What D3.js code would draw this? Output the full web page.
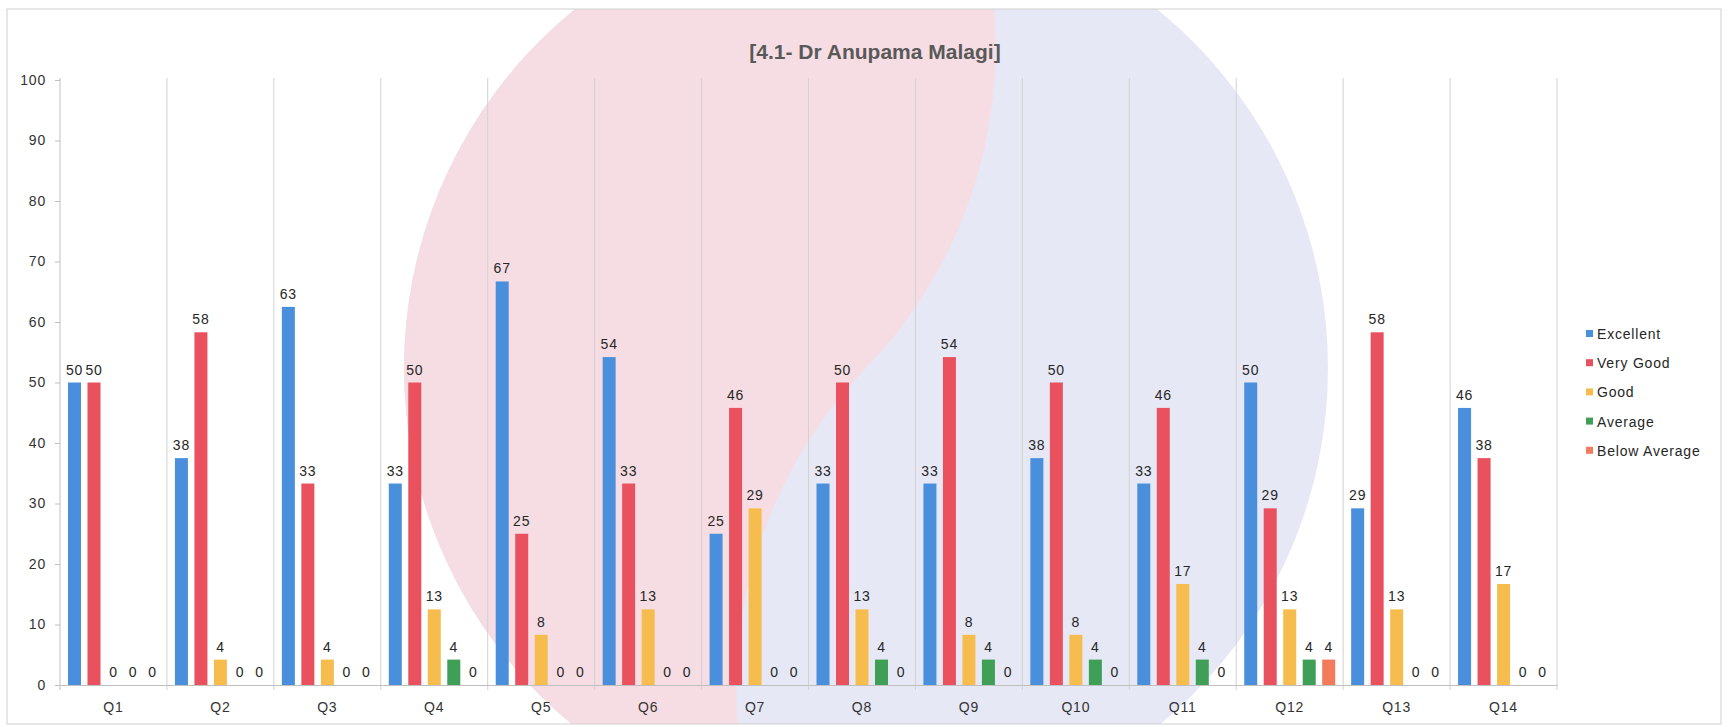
<html>
<head>
<title>4.1- Dr Anupama Malagi</title>
<script src="https://cdn.jsdelivr.net/npm/d3@7"></script>
<style>
    body {
        margin:0;
        background:white;
        font-family:'Liberation Sans', Arial, sans-serif;
    }
    .axis text {
        font-size:14px;
        letter-spacing:0.8px;
        fill:#333;
    }
    .axis path, .axis line {
        stroke:#bfbfbf;
    }
    .lbl {
        font-size:14px;
        letter-spacing:0.8px;
        fill:#262626;
    }
</style>
</head>
<body>
<svg id="svg" width="1728" height="727"></svg>
<script>
// data (percent of responses)
const questions = ["Q1","Q2","Q3","Q4","Q5","Q6","Q7","Q8","Q9","Q10","Q11","Q12","Q13","Q14"];
const seriesNames = ["Excellent","Very Good","Good","Average","Below Average"];
const excellent = [50, 37.5, 62.5, 33.3, 66.7, 54.2, 25, 33.3, 33.3, 37.5, 33.3, 50, 29.2, 45.8];
const veryGood = [50, 58.3, 33.3, 50, 25, 33.3, 45.8, 50, 54.2, 50, 45.8, 29.2, 58.3, 37.5];
const good = [0, 4.2, 4.2, 12.5, 8.3, 12.5, 29.2, 12.5, 8.3, 8.3, 16.7, 12.5, 12.5, 16.7];
const average = [0, 0, 0, 4.2, 0, 0, 0, 4.2, 4.2, 4.2, 4.2, 4.2, 0, 0];
const belowAverage = [0, 0, 0, 0, 0, 0, 0, 0, 0, 0, 0, 4.2, 0, 0];
const yTicks = [0,10,20,30,40,50,60,70,80,90,100];

const colors = ["#4a8fdc","#e8515d","#f6bd4e","#3f9f57","#f27b5c"];
const allSeries = [excellent, veryGood, good, average, belowAverage];

const plot = {left:60, right:1557, top:80, bottom:685};

let svg = d3.select('#svg');

// faint watermark behind the chart (scanned letterhead seal)
const wm = {cx:866, cy:368, r:462, tilt:14*Math.PI/180};
svg.append("clipPath").attr("id","frame")
    .append("rect").attr("x",7).attr("y",9).attr("width",1714).attr("height",715);
let mark = svg.append("g").attr("clip-path","url(#frame)");
mark.append("circle")
    .attr("cx",wm.cx).attr("cy",wm.cy).attr("r",wm.r)
    .attr("fill","#e6e8f6");
let tx = wm.cx + wm.r*Math.sin(wm.tilt), ty = wm.cy - wm.r*Math.cos(wm.tilt);
let bx = wm.cx - wm.r*Math.sin(wm.tilt), by = wm.cy + wm.r*Math.cos(wm.tilt);
let s = wm.r;
mark.append("path")
    .attr("d", `M${tx},${ty} A${wm.r},${wm.r} 0 0 0 ${bx},${by} A${s},${s} 0 0 1 ${wm.cx},${wm.cy} A${s},${s} 0 0 0 ${tx},${ty} Z`)
    .attr("fill","#f6dde3");

// outer frame
svg.append("rect")
    .attr("x",7).attr("y",9).attr("width",1714).attr("height",715)
    .attr("fill","none").attr("stroke","#cfcfcf");

// scales
let x0 = d3.scaleBand().domain(questions).range([plot.left, plot.right]);
let x1 = d3.scaleBand().domain(seriesNames).range([8, 99]).paddingInner(0.333);
let y = d3.scaleLinear().domain([0,100]).range([plot.bottom, plot.top]);

// category separators
svg.append("g").selectAll("line")
    .data(questions)
    .join("line")
    .attr("x1", d => x0(d) + x0.bandwidth())
    .attr("x2", d => x0(d) + x0.bandwidth())
    .attr("y1", plot.top - 2)
    .attr("y2", plot.bottom + 5)
    .attr("stroke","#d2d2d2");

// y axis
let yAxis = d3.axisLeft(y).tickValues(yTicks).tickSize(5).tickSizeOuter(0).tickPadding(9);
svg.append("g").attr("class","axis")
    .attr("transform",`translate(${plot.left},0)`)
    .call(yAxis)
    .call(g => g.select(".domain").attr("d",`M0,${plot.top-2}V${plot.bottom+5}`));

// x axis
let xAxis = d3.axisBottom(x0).tickSize(0).tickPadding(17);
svg.append("g").attr("class","axis")
    .attr("transform",`translate(0,${plot.bottom})`)
    .call(xAxis);

// bars
let fmt = d3.format(".0f");
let groups = svg.append("g").selectAll("g")
    .data(allSeries)
    .join("g")
    .attr("fill", (d,i) => colors[i]);

groups.selectAll("rect")
    .data((vals, si) => vals.map((v,qi) => ({q:questions[qi], s:seriesNames[si], v:v})))
    .join("rect")
    .attr("x", d => x0(d.q) + x1(d.s))
    .attr("width", x1.bandwidth())
    .attr("y", d => y(d.v))
    .attr("height", d => y(0) - y(d.v));

// value labels
groups.selectAll("text")
    .data((vals, si) => vals.map((v,qi) => ({q:questions[qi], s:seriesNames[si], v:v})))
    .join("text")
    .attr("class","lbl")
    .attr("text-anchor","middle")
    .attr("x", d => x0(d.q) + x1(d.s) + x1.bandwidth()/2)
    .attr("y", d => y(d.v) - 8)
    .text(d => fmt(d.v));

// title
svg.append("text")
    .attr("x", 875).attr("y", 59)
    .attr("text-anchor","middle")
    .attr("font-size","21px").attr("font-weight","bold")
    .attr("fill","#595959")
    .text("[4.1- Dr Anupama Malagi]");

// legend
let legend = svg.append("g").attr("transform","translate(1586,334)");
let items = legend.selectAll("g")
    .data(seriesNames)
    .join("g")
    .attr("transform",(d,i) => `translate(0,${i*29.2})`);
items.append("rect")
    .attr("x",0).attr("y",-4).attr("width",7).attr("height",7)
    .attr("fill",(d,i) => colors[i]);
items.append("text")
    .attr("class","lbl")
    .attr("x",11).attr("y",5)
    .attr("font-size","15px")
    .text(d => d);
</script>
</body>
</html>
